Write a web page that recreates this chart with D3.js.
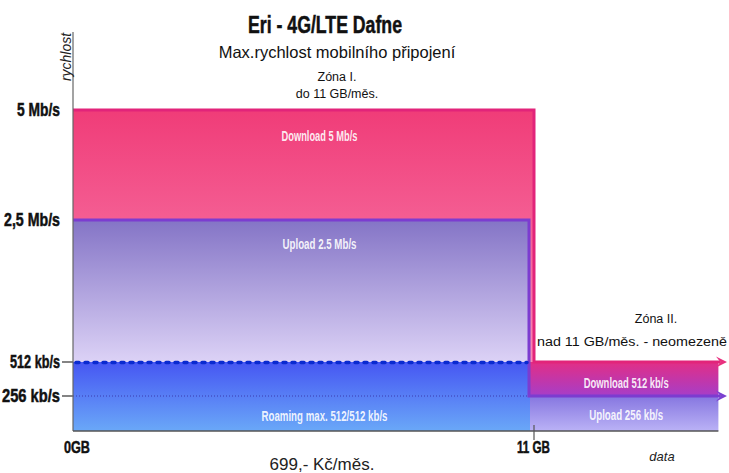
<!DOCTYPE html>
<html>
<head>
<meta charset="utf-8">
<script src="https://cdn.jsdelivr.net/npm/d3@7"></script>
<style>
  body { margin: 0; background: #fff; }
  svg text { font-family: "Liberation Sans", Arial, sans-serif; }
</style>
</head>
<body>
<svg id="chart"></svg>
<script>
// speed levels in kb/s, data volume in GB
var speedTicks = [5000, 2500, 512, 256];
var speedLabels = ["5 Mb/s", "2,5 Mb/s", "512 kb/s", "256 kb/s"];
var dataTicks = [0, 11];
var dataLabels = ["0GB", "11 GB"];
var zoneStart = [0, 11];
var zoneEnd = [11, 15.4];
var downloadKbps = [5000, 512];
var uploadKbps = [2500, 256];
var roamingKbps = 512;
var downloadLabels = ["Download 5 Mb/s", "Download 512 kb/s"];
var uploadLabels = ["Upload 2.5 Mb/s", "Upload 256 kb/s"];
var roamingLabel = "Roaming max. 512/512 kb/s";

var width = 729, height = 473;

var svg = d3.select("#chart")
    .attr("width", width)
    .attr("height", height);

// not a linear axis in the original: low speeds are stretched
var y = d3.scaleLinear()
    .domain([0, 256, 512, 2500, 5000])
    .range([431, 396, 362, 220, 110]);

var x = d3.scaleLinear()
    .domain([0, 11])
    .range([73, 534]);

var defs = svg.append("defs");
function grad(id, top, bottom) {
    var g = defs.append("linearGradient").attr("id", id)
        .attr("x1", 0).attr("y1", 0).attr("x2", 0).attr("y2", 1);
    g.append("stop").attr("offset", "0%").attr("stop-color", top);
    g.append("stop").attr("offset", "100%").attr("stop-color", bottom);
}
grad("gDown", "#f03c78", "#fc9ec6");
grad("gUp", "#8474c6", "#dcd2f6");
grad("gRoam", "#4656f2", "#6aa8f8");
grad("gDown2", "#e22e86", "#a63ec8");
grad("gUp2", "#8676e0", "#bab2f6");

var marker = function (id, color) {
    defs.append("marker").attr("id", id)
        .attr("viewBox", "0 0 10 10").attr("refX", 4).attr("refY", 5)
        .attr("markerWidth", 3.8).attr("markerHeight", 3.8)
        .attr("orient", "auto")
        .append("path").attr("d", "M0,0 L10,5 L0,10 L4,5 Z")
        .attr("fill", color);
};
marker("arrPink", "#e8307e");
marker("arrPurple", "#7a40d0");

// zone I download
svg.append("rect")
    .attr("x", x(zoneStart[0]))
    .attr("y", y(downloadKbps[0]))
    .attr("width", x(zoneEnd[0]) - x(zoneStart[0]))
    .attr("height", y(0) - y(downloadKbps[0]))
    .attr("fill", "url(#gDown)");

// zone I upload
svg.append("rect")
    .attr("x", x(zoneStart[0]))
    .attr("y", y(uploadKbps[0]))
    .attr("width", x(zoneEnd[0]) - x(zoneStart[0]) - 5)
    .attr("height", y(roamingKbps) - y(uploadKbps[0]))
    .attr("fill", "url(#gUp)");

// roaming band
svg.append("rect")
    .attr("x", x(zoneStart[0]))
    .attr("y", y(roamingKbps))
    .attr("width", x(zoneEnd[0]) - x(zoneStart[0]) - 4)
    .attr("height", y(0) - y(roamingKbps))
    .attr("fill", "url(#gRoam)");

// zone II bands
svg.append("rect")
    .attr("x", x(zoneStart[1]) - 4)
    .attr("y", y(downloadKbps[1]))
    .attr("width", x(zoneEnd[1]) - x(zoneStart[1]) + 4)
    .attr("height", y(uploadKbps[1]) - y(downloadKbps[1]))
    .attr("fill", "url(#gDown2)");
svg.append("rect")
    .attr("x", x(zoneStart[1]) - 4)
    .attr("y", y(uploadKbps[1]))
    .attr("width", x(zoneEnd[1]) - x(zoneStart[1]) + 4)
    .attr("height", y(0) - y(uploadKbps[1]))
    .attr("fill", "url(#gUp2)");

// download outline: top of zone I, drop at 11 GB, arrow through zone II
svg.append("path")
    .attr("d", "M" + x(zoneStart[0]) + "," + y(downloadKbps[0]) +
        " H" + x(zoneEnd[0]) +
        " V" + y(downloadKbps[1]) +
        " H" + (x(zoneEnd[1]) + 2))
    .attr("fill", "none")
    .attr("stroke", "#e2247a")
    .attr("stroke-width", 3)
    .attr("marker-end", "url(#arrPink)");

// upload outline
svg.append("path")
    .attr("d", "M" + x(zoneStart[0]) + "," + y(uploadKbps[0]) +
        " H" + (x(zoneEnd[0]) - 5) +
        " V" + y(uploadKbps[1]) +
        " H" + (x(zoneEnd[1]) + 2))
    .attr("fill", "none")
    .attr("stroke", "#7c3cd0")
    .attr("stroke-width", 3)
    .attr("marker-end", "url(#arrPurple)");

// 512 dashed / 256 dotted guides in zone I
svg.append("line")
    .attr("x1", x(0) + 3).attr("x2", x(zoneEnd[0]) - 7)
    .attr("y1", y(512) + 0.5).attr("y2", y(512) + 0.5)
    .attr("stroke", "#0a2ad0").attr("stroke-width", 3.5)
    .attr("stroke-linecap", "round")
    .attr("stroke-dasharray", "3,6");
svg.append("line")
    .attr("x1", x(0)).attr("x2", x(zoneEnd[0]) - 5)
    .attr("y1", y(256)).attr("y2", y(256))
    .attr("stroke", "#3a3ab0").attr("stroke-width", 1)
    .attr("stroke-dasharray", "1,2");
svg.selectAll(".ytick")
    .data([512, 256])
    .enter().append("line")
    .attr("x1", x(0) - 11).attr("x2", x(0))
    .attr("y1", function (d) { return y(d); })
    .attr("y2", function (d) { return y(d); })
    .attr("stroke", "#333").attr("stroke-width", 1.2);

// axes
svg.append("line")
    .attr("x1", x(0)).attr("x2", x(0))
    .attr("y1", 32).attr("y2", y(0))
    .attr("stroke", "#666").attr("stroke-width", 1.2);
svg.append("line")
    .attr("x1", x(0)).attr("x2", x(zoneEnd[1]))
    .attr("y1", y(0)).attr("y2", y(0))
    .attr("stroke", "#555").attr("stroke-width", 1.5);
svg.append("line")
    .attr("x1", x(11)).attr("x2", x(11))
    .attr("y1", y(0) - 6).attr("y2", y(0) + 9)
    .attr("stroke", "#555").attr("stroke-width", 1.2);

// condensed heavy labels, squeezed to width
function heavy(sel, size) {
    return sel.attr("font-family", "'DejaVu Sans', sans-serif")
        .attr("font-weight", "bold")
        .attr("font-size", size)
        .attr("fill", "#111")
        .attr("stroke", "#111")
        .attr("stroke-width", 0.5);
}

var yLabW = [43, 56, 50, 58];
svg.selectAll(".ylab")
    .data(speedTicks)
    .enter().append("text")
    .attr("x", 60)
    .attr("y", function (d) { return y(d) + 6; })
    .attr("text-anchor", "end")
    .attr("textLength", function (d, i) { return yLabW[i]; })
    .attr("lengthAdjust", "spacingAndGlyphs")
    .text(function (d, i) { return speedLabels[i]; })
    .call(heavy, 17.5);

var xLabW = [26, 33];
svg.selectAll(".xlab")
    .data(dataTicks)
    .enter().append("text")
    .attr("x", function (d, i) { return i === 0 ? x(d) - 9 : x(d) - 17; })
    .attr("y", 453)
    .attr("textLength", function (d, i) { return xLabW[i]; })
    .attr("lengthAdjust", "spacingAndGlyphs")
    .text(function (d, i) { return dataLabels[i]; })
    .call(heavy, 17);

// title
svg.append("text")
    .attr("x", 248).attr("y", 33)
    .attr("textLength", 154)
    .attr("lengthAdjust", "spacingAndGlyphs")
    .text("Eri - 4G/LTE Dafne")
    .call(heavy, 24);

svg.append("text")
    .attr("x", 337).attr("y", 58)
    .attr("text-anchor", "middle")
    .attr("font-family", "'Open Sans', sans-serif")
    .attr("font-size", 16.5)
    .attr("fill", "#111")
    .text("Max.rychlost mobilního připojení");

function note(tx, ty, str, size, fam) {
    return svg.append("text")
        .attr("x", tx).attr("y", ty)
        .attr("text-anchor", "middle")
        .attr("font-family", fam || "'Liberation Sans Narrow', 'Liberation Sans', sans-serif")
        .attr("font-size", size)
        .attr("fill", "#111")
        .text(str);
}
note(337, 81, "Zóna I.", 12.5);
note(337, 98, "do 11 GB/měs.", 12.5);
note(656, 323, "Zóna II.", 12.5);
note(632, 346, "nad 11 GB/měs. - neomezeně", 12.5, "'DejaVu Sans', sans-serif")
    .attr("textLength", 190).attr("lengthAdjust", "spacingAndGlyphs");

svg.append("text")
    .attr("transform", "translate(71,57) rotate(-90)")
    .attr("text-anchor", "middle")
    .attr("font-family", "'Liberation Sans Narrow', 'Liberation Sans', sans-serif")
    .attr("font-style", "italic")
    .attr("font-size", 14)
    .attr("fill", "#222")
    .text("rychlost");

svg.append("text")
    .attr("x", 662).attr("y", 461)
    .attr("text-anchor", "middle")
    .attr("font-family", "'Liberation Sans Narrow', 'Liberation Sans', sans-serif")
    .attr("font-style", "italic")
    .attr("font-size", 13)
    .attr("fill", "#222")
    .text("data");

svg.append("text")
    .attr("x", 322).attr("y", 470)
    .attr("text-anchor", "middle")
    .attr("font-family", "'Liberation Sans', Arial, sans-serif")
    .attr("font-size", 17)
    .attr("fill", "#222")
    .text("699,- Kč/měs.");

// white labels inside the bands
function bandLabel(tx, ty, str, w) {
    svg.append("text")
        .attr("x", tx - w / 2).attr("y", ty)
        .attr("textLength", w)
        .attr("lengthAdjust", "spacingAndGlyphs")
        .attr("font-family", "'DejaVu Sans', sans-serif")
        .attr("font-weight", "bold")
        .attr("font-size", 14.5)
        .attr("fill", "#fff")
        .attr("fill-opacity", 0.9)
        .text(str);
}
var mid1 = (x(zoneStart[0]) + x(zoneEnd[0])) / 2 + 16;
var mid2 = (x(zoneStart[1]) + x(zoneEnd[1])) / 2;
bandLabel(mid1, 141, downloadLabels[0], 76);
bandLabel(mid1, 249, uploadLabels[0], 74);
bandLabel(mid1 + 5, 421, roamingLabel, 126);
bandLabel(mid2, 388, downloadLabels[1], 85);
bandLabel(mid2, 420, uploadLabels[1], 74);
</script>
</body>
</html>
